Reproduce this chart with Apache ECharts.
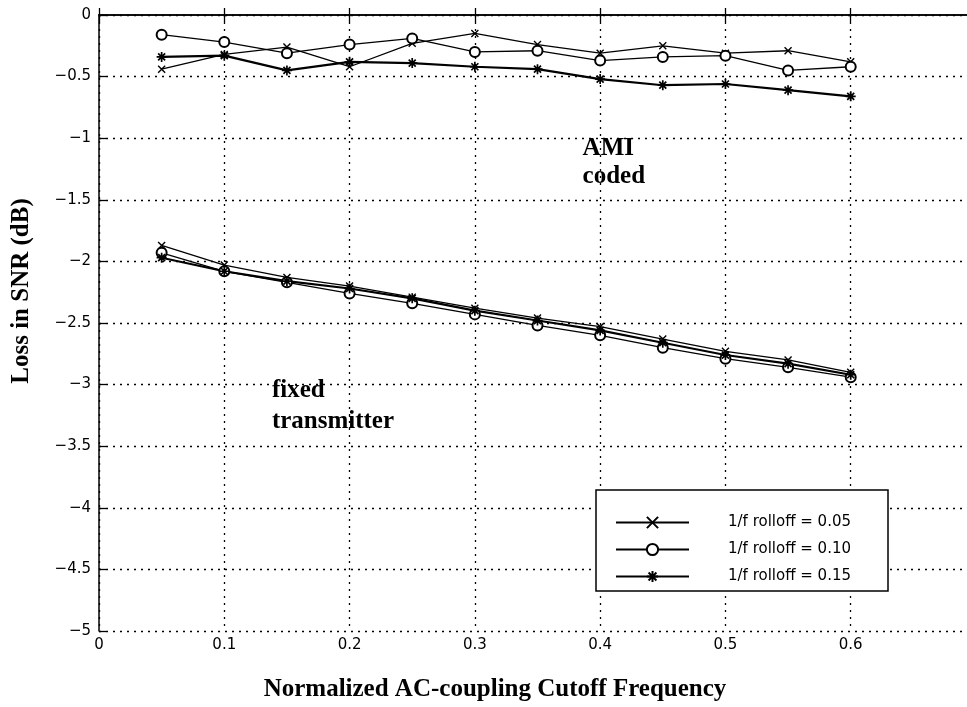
<!DOCTYPE html>
<html><head><meta charset="utf-8">
<script src="https://cdn.jsdelivr.net/npm/echarts@6/dist/echarts.min.js"></script>
<style>html,body{margin:0;padding:0;background:#fff}#c{width:967px;height:707px}</style>
</head><body><div id="c"></div>
<script>
const xs = [0.05,0.1,0.15,0.2,0.25,0.3,0.35,0.4,0.45,0.5,0.55,0.6];
const seriesNames = ['1/f rolloff = 0.05','1/f rolloff = 0.10','1/f rolloff = 0.15'];
// AMI coded group
const ami05 = [-0.44,-0.32,-0.26,-0.42,-0.23,-0.15,-0.24,-0.31,-0.25,-0.31,-0.29,-0.38];
const ami10 = [-0.16,-0.22,-0.31,-0.24,-0.19,-0.30,-0.29,-0.37,-0.34,-0.33,-0.45,-0.42];
const ami15 = [-0.34,-0.33,-0.45,-0.38,-0.39,-0.42,-0.44,-0.52,-0.57,-0.56,-0.61,-0.66];
// fixed transmitter group
const fix05 = [-1.87,-2.03,-2.13,-2.20,-2.29,-2.38,-2.46,-2.53,-2.63,-2.73,-2.80,-2.90];
const fix10 = [-1.93,-2.08,-2.17,-2.26,-2.34,-2.43,-2.52,-2.60,-2.70,-2.79,-2.86,-2.94];
const fix15 = [-1.97,-2.08,-2.16,-2.22,-2.30,-2.40,-2.48,-2.56,-2.66,-2.76,-2.83,-2.92];
const annotations = [
  {text:'AMI', x:0.386, y:-1.08},
  {text:'coded', x:0.386, y:-1.31},
  {text:'fixed', x:0.138, y:-3.05},
  {text:'transmitter', x:0.138, y:-3.30}
];

const X_PATH = 'path://M0,0L10,10M10,0L0,10';
const STAR_PATH = 'path://M5,0L5,10M0,5L10,5M1.5,1.5L8.5,8.5M8.5,1.5L1.5,8.5';
const styles = [
  {symbol:X_PATH, symbolSize:7, lw:1.3, bw:1.4},
  {symbol:'emptyCircle', symbolSize:10, lw:1.3, bw:1.5},
  {symbol:STAR_PATH, symbolSize:10, lw:2.2, bw:1.7}
];
const pair = v => xs.map((x,i)=>[x,v[i]]);
function mk(idx, vals){
  const s = styles[idx];
  return {
    name: seriesNames[idx], type:'line', data: pair(vals),
    symbol: s.symbol, symbolSize: s.symbolSize, showAllSymbol:true,
    lineStyle:{color:'#000', width:s.lw},
    itemStyle:{color:'#000', borderColor:'#000', borderWidth:s.bw},
    emphasis:{disabled:true}, animation:false, z:3
  };
}
const series = [mk(0,ami05),mk(1,ami10),mk(2,ami15),mk(0,fix05),mk(1,fix10),mk(2,fix15)];
series.push({
  type:'scatter', data: annotations.map(a=>[a.x,a.y,a.text]), symbolSize:0, silent:true,
  itemStyle:{opacity:1},
  label:{show:true, position:'inside', formatter:p=>p.data[2], color:'#000', opacity:1,
    fontFamily:'Liberation Serif', fontWeight:'bold', fontSize:25, align:'left'},
  animation:false, z:4
});

const chart = echarts.init(document.getElementById('c'), null, {renderer:'canvas'});
const tickFont = {color:'#000', fontFamily:'DejaVu Sans', fontSize:15};
chart.setOption({
  animation:false,
  backgroundColor:'#fff',
  grid:{left:99, top:15, right:-9, bottom:76, containLabel:false, outerBoundsMode:'none'},
  xAxis:[{
    type:'value', min:0, max:0.7, interval:0.1,
    axisLine:{show:true, lineStyle:{color:'#000', width:1.5}},
    axisTick:{show:true, inside:true, length:7, lineStyle:{color:'#000', width:1.3}},
    axisLabel:{...tickFont, margin:7, showMaxLabel:false},
    splitLine:{show:true, lineStyle:{color:'#000', width:1.3, type:[2,5]}}
  },{
    type:'value', position:'top', min:0, max:0.7, interval:0.1,
    axisLine:{show:true, onZero:false, lineStyle:{color:'#000', width:1.5}},
    axisTick:{show:true, inside:true, length:7, lineStyle:{color:'#000', width:1.3}},
    axisLabel:{show:false}, splitLine:{show:false}
  }],
  yAxis:[{
    type:'value', min:-5, max:0, interval:0.5,
    axisLine:{show:true, onZero:false, lineStyle:{color:'#000', width:1.5}},
    axisTick:{show:true, inside:true, length:7, lineStyle:{color:'#000', width:1.3}},
    axisLabel:{...tickFont, margin:8, formatter:v=>String(v).replace('-','\u2212')},
    splitLine:{show:true, lineStyle:{color:'#000', width:1.3, type:[2,5]}}
  }],
  legend:{
    show:true, orient:'vertical', left:610, top:510, itemWidth:73, itemHeight:14, itemGap:12,
    data: seriesNames, selectedMode:false, z:6,
    textStyle:{color:'#000', fontFamily:'DejaVu Sans', fontSize:15, padding:[0,0,0,34]}
  },
  graphic:[
    {type:'rect', z:5, shape:{x:596, y:490, width:292, height:101}, style:{fill:'#fff', stroke:'#000', lineWidth:1.5}},
    {type:'text', x:22, y:291, rotation:Math.PI/2, style:{text:'Loss in SNR (dB)', fill:'#000',
      font:'bold 25px "Liberation Serif"', align:'center', verticalAlign:'middle'}},
    {type:'text', x:495, y:690, style:{text:'Normalized AC-coupling Cutoff Frequency', fill:'#000',
      font:'bold 25px "Liberation Serif"', align:'center', verticalAlign:'middle'}}
  ],
  series: series
});
</script></body></html>
